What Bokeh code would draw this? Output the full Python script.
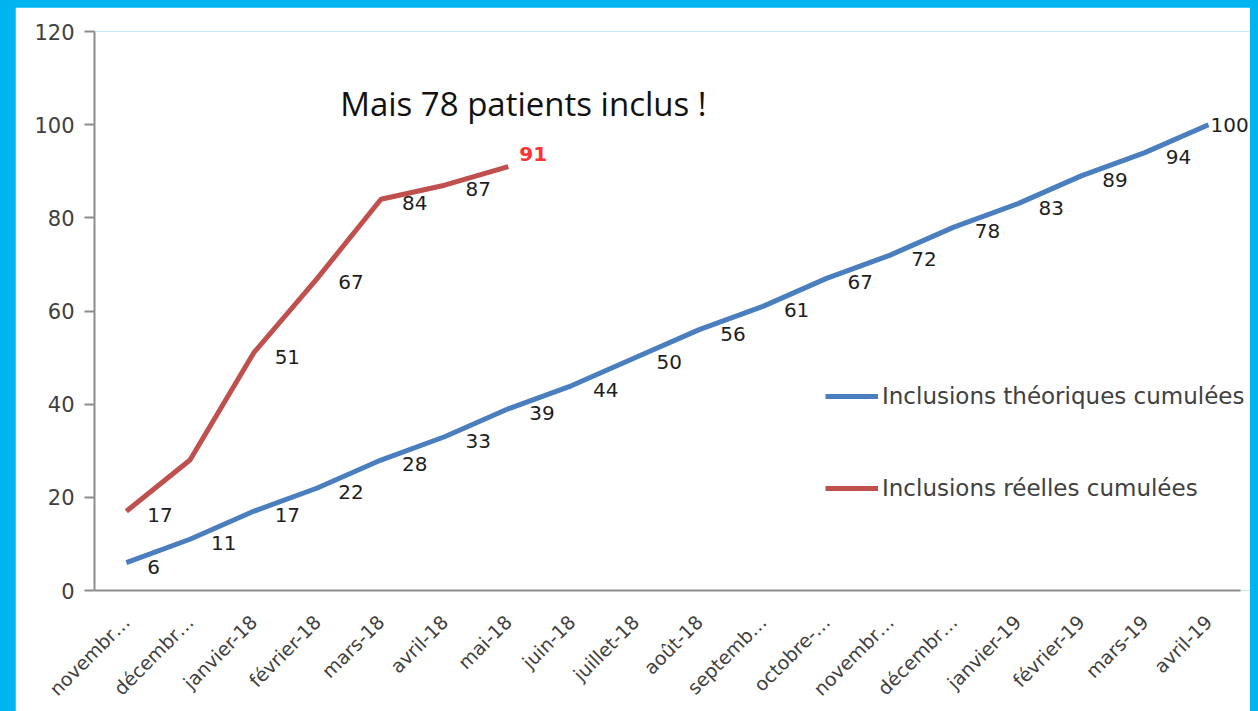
from bokeh.plotting import figure
from bokeh.models import (ColumnDataSource, Range1d, Legend, LegendItem,
                          Label, FixedTicker, GlobalInlineStyleSheet, CustomJSTickFormatter)
from bokeh.core.properties import value
from bokeh.embed import file_html
from bokeh.resources import INLINE
import math

# ---- data ----
months = ["novembre-17", "décembre-17", "janvier-18", "février-18", "mars-18", "avril-18",
          "mai-18", "juin-18", "juillet-18", "août-18", "septembre-18", "octobre-18",
          "novembre-18", "décembre-18", "janvier-19", "février-19", "mars-19", "avril-19"]
tick_labels = ["novembr…", "décembr…", "janvier-18", "février-18", "mars-18", "avril-18",
               "mai-18", "juin-18", "juillet-18", "août-18", "septemb…", "octobre-…",
               "novembr…", "décembr…", "janvier-19", "février-19", "mars-19", "avril-19"]
theoriques = [6, 11, 17, 22, 28, 33, 39, 44, 50, 56, 61, 67, 72, 78, 83, 89, 94, 100]
reelles = [17, 28, 51, 67, 84, 87, 91]
reelles_labels = ["17", "", "51", "67", "84", "87", "91"]
y_ticks = [0, 20, 40, 60, 80, 100, 120]
annotation = "Mais 78 patients inclus !"

BLUE = "#4a7ebf"
RED = "#c0504d"
FONT = value("DejaVu Sans")

# category centres on the axis (one band per month)
pos = [i + 0.5 for i in range(len(months))]
n_cat = len(months)

p = figure(width=1235, height=704, x_range=Range1d(0, n_cat + 0.16),
           y_range=Range1d(0, 120), output_backend="svg", toolbar_location=None,
           min_border_left=79, min_border_right=0, min_border_top=24, min_border_bottom=121)
p.stylesheets = [GlobalInlineStyleSheet(
    css="html, body { background-color: #00b4f0; } body { padding: 7px 0 0 15px; box-sizing: border-box; }")]
p.background_fill_color = "white"
p.border_fill_color = "white"
p.outline_line_color = None
p.grid.visible = False

# axes
p.yaxis.ticker = FixedTicker(ticks=y_ticks)
p.yaxis.axis_line_color = "#8c8c8c"
p.yaxis.axis_line_width = 2
p.yaxis.major_tick_line_color = "#8c8c8c"
p.yaxis.major_tick_line_width = 2
p.yaxis.major_tick_out = 10
p.yaxis.major_tick_in = 0
p.yaxis.minor_tick_line_color = None
p.yaxis.major_label_standoff = 10
p.yaxis.major_label_text_font = "DejaVu Sans"
p.yaxis.major_label_text_font_size = "21px"
p.yaxis.major_label_text_color = "#404040"

p.xaxis.bounds = (0, n_cat)
p.xaxis.ticker = FixedTicker(ticks=pos)
p.xaxis.axis_line_color = "#8c8c8c"
p.xaxis.axis_line_width = 2
p.xaxis.major_tick_line_color = None
p.xaxis.minor_tick_line_color = None
p.xaxis.major_label_orientation = math.pi / 4
p.xaxis.major_label_standoff = 22
p.xaxis.major_label_text_font = "DejaVu Sans"
p.xaxis.major_label_text_font_size = "19px"
p.xaxis.major_label_text_color = "#404040"
p.xaxis.formatter = CustomJSTickFormatter(
    args=dict(t=tick_labels),
    code="const i = Math.floor(tick); return (i >= 0 && i < t.length) ? t[i] : '';")

# lines
src_b = ColumnDataSource(dict(x=pos, y=theoriques, m=months))
src_r = ColumnDataSource(dict(x=pos[:len(reelles)], y=reelles, m=months[:len(reelles)]))
rb = p.line("x", "y", source=src_b, line_color=BLUE, line_width=5)
rr = p.line("x", "y", source=src_r, line_color=RED, line_width=5)

# data labels
n = len(theoriques)
p.text(x=pos[:n - 1], y=theoriques[:n - 1], text=[str(v) for v in theoriques[:n - 1]],
       x_offset=21, y_offset=4, text_baseline="middle", text_align="left",
       text_font=FONT, text_font_size="20px", text_color="#1e1e1e")
p.text(x=pos[n - 1:], y=theoriques[n - 1:], text=[str(v) for v in theoriques[n - 1:]],
       x_offset=2, y_offset=0, text_baseline="middle", text_align="left",
       text_font=FONT, text_font_size="20px", text_color="#1e1e1e")
m = len(reelles)
p.text(x=pos[:m - 1], y=reelles[:m - 1], text=reelles_labels[:m - 1],
       x_offset=21, y_offset=4, text_baseline="middle", text_align="left",
       text_font=FONT, text_font_size="20px", text_color="#1e1e1e")
p.text(x=pos[m - 1:m], y=reelles[m - 1:], text=reelles_labels[m - 1:],
       x_offset=11, y_offset=-13, text_baseline="middle", text_align="left",
       text_font=FONT, text_font_size="20px", text_font_style="bold", text_color="#ff3333")

# annotation
p.add_layout(Label(x=3.86, y=104.5, text=annotation, text_font="Open Sans",
                   text_font_size="33px", text_color="#111111", text_baseline="middle",
                   text_align="left"))

# legend
legend = Legend(items=[LegendItem(label="Inclusions théoriques cumulées", renderers=[rb]),
                       LegendItem(label="Inclusions réelles cumulées", renderers=[rr])],
                location=(731, 89), glyph_width=53, glyph_height=24, label_height=24,
                spacing=66, padding=0, margin=0, label_standoff=4,
                label_text_font="DejaVu Sans", label_text_font_size="23px",
                label_text_color="#404040", border_line_color=None,
                background_fill_alpha=0)
p.add_layout(legend, "center")

open("out.html", "w").write(file_html(p, INLINE))
